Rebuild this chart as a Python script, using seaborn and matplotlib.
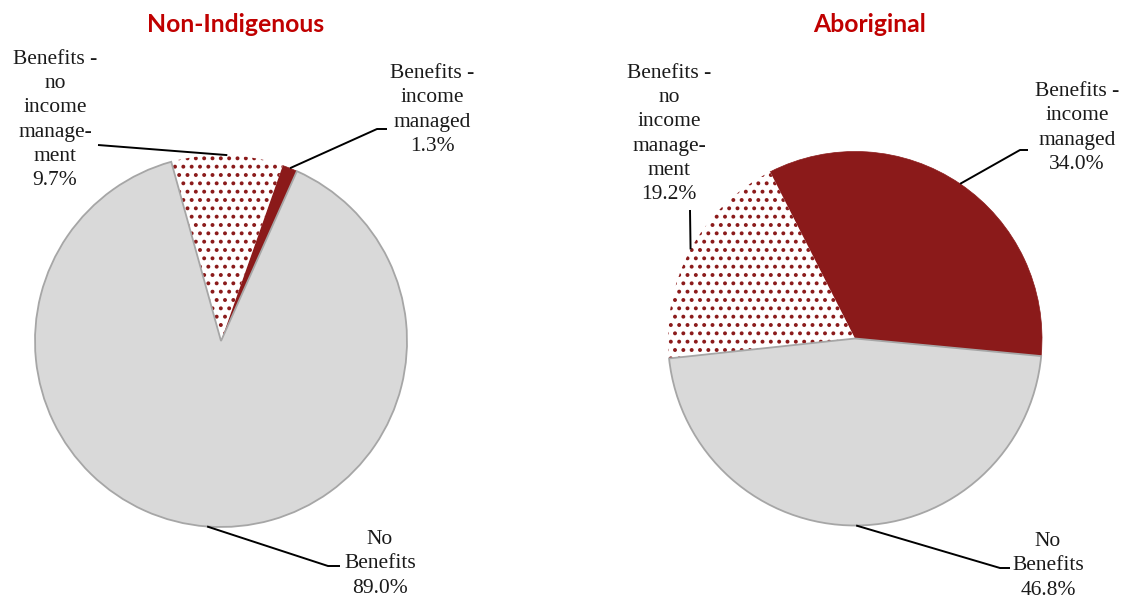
import numpy as np
import matplotlib
matplotlib.use("Agg")
import matplotlib.pyplot as plt
import seaborn as sns

# Share of people by benefit status
categories = ["Benefits -\nincome\nmanaged", "No\nBenefits", "Benefits -\nno\nincome\nmanage-\nment"]
non_indigenous = [1.3, 89.0, 9.7]
aboriginal = [34.0, 46.8, 19.2]
titles = ["Non-Indigenous", "Aboriginal"]

sns.set_theme(style="white")
plt.rcParams["font.family"] = ["Liberation Serif", "DejaVu Serif"]
plt.rcParams["hatch.linewidth"] = 1.6

DARK_RED = "#8B1A1A"
LIGHT_GREY = "#D9D9D9"
EDGE_GREY = "#A6A6A6"
TITLE_RED = "#C00000"

W, H = 1129, 598
fig = plt.figure(figsize=(W / 100, H / 100), dpi=100)
ax = fig.add_axes([0, 0, 1, 1])
ax.set_xlim(0, W)
ax.set_ylim(0, H)
ax.set_aspect("equal")
ax.axis("off")

# pie geometry (pixel space, y up)
pies = [
    dict(values=non_indigenous, center=(221, H - 341), radius=186, start=70.6,
         title_xy=(236, H - 25),
         labels=[dict(xy=(432, H - 110), elbow=(377, H - 129), tx=387),
                 dict(xy=(380, H - 564), elbow=(328, H - 566), tx=340),
                 dict(xy=(55, H - 120), elbow=(98, H - 145), tx=98)]),
    dict(values=aboriginal, center=(855, H - 338.5), radius=187, start=117,
         title_xy=(870, H - 25),
         labels=[dict(xy=(1077, H - 128), elbow=(1020, H - 150), tx=1028),
                 dict(xy=(1048, H - 566), elbow=(1000, H - 568), tx=1010),
                 dict(xy=(669, H - 134), elbow=(690, H - 210), tx=690)]),
]

for p, title in zip(pies, titles):
    wedges, _ = ax.pie(p["values"], center=p["center"], radius=p["radius"],
                       startangle=p["start"], counterclock=False, frame=True)
    red, grey, dotted = wedges
    red.set_facecolor(DARK_RED)
    red.set_edgecolor(DARK_RED)
    red.set_linewidth(0.5)
    grey.set_facecolor(LIGHT_GREY)
    grey.set_edgecolor(EDGE_GREY)
    grey.set_linewidth(1.3)
    grey.set_zorder(3)
    dotted.set_facecolor("white")
    dotted.set_edgecolor(DARK_RED)
    dotted.set_linewidth(0)
    dotted.set_hatch("..")

    cx, cy = p["center"]
    r = p["radius"]
    for w, val, lab, cat in zip(wedges, p["values"], p["labels"], categories):
        mid = np.deg2rad((w.theta1 + w.theta2) / 2)
        px, py = cx + r * np.cos(mid), cy + r * np.sin(mid)
        ex, ey = lab["elbow"]
        ax.plot([px, ex, lab["tx"]], [py, ey, ey], color="black", lw=1.4,
                solid_capstyle="butt", zorder=5)
        ax.text(lab["xy"][0], lab["xy"][1], f"{cat}\n{val:.1f}%", ha="center",
                va="center", fontsize=15.5, linespacing=1.38, color="#1a1a1a",
                multialignment="center", zorder=6)

    ax.text(p["title_xy"][0], p["title_xy"][1], title, ha="center", va="center",
            fontsize=17.8, fontweight="bold", color=TITLE_RED,
            family=["Lato", "DejaVu Sans"])

ax.set_xlim(0, W)
ax.set_ylim(0, H)
fig.savefig("out.png", dpi=100, facecolor="white")
